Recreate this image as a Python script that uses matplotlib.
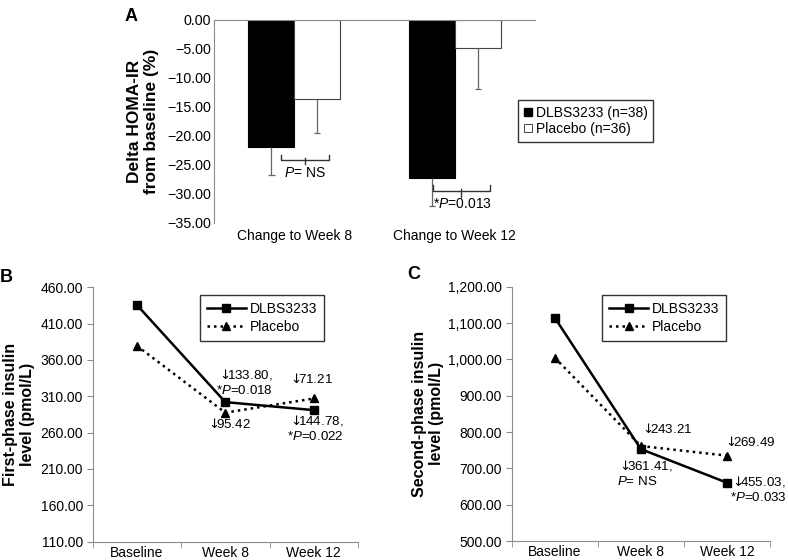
import matplotlib.pyplot as plt
from matplotlib.lines import Line2D

plt.rcParams['font.family'] = ['Liberation Sans', 'DejaVu Sans']
plt.rcParams['mathtext.fontset'] = 'custom'
plt.rcParams['mathtext.it'] = 'Liberation Sans:italic'
plt.rcParams['mathtext.rm'] = 'DejaVu Sans'
plt.rcParams['font.size'] = 10

# panel A data
groups = ['Change to Week 8', 'Change to Week 12']
dlbs_delta = [-21.9, -27.2]
placebo_delta = [-13.7, -4.9]
dlbs_err = [4.9, 4.9]
placebo_err = [5.8, 7.0]
a_ticks = [0, -5, -10, -15, -20, -25, -30, -35]

# panels B and C data
visits = ['Baseline', 'Week 8', 'Week 12']
first_dlbs = [435.7, 302.0, 291.0]
first_placebo = [379.5, 287.5, 307.0]
second_dlbs = [1114.7, 753.0, 660.5]
second_placebo = [1004.6, 761.5, 735.0]
b_ticks = [110, 160, 210, 260, 310, 360, 410, 460]
c_ticks = [500, 600, 700, 800, 900, 1000, 1100, 1200]

grey = '#8c8c8c'
tick_fs = 10
note_fs = 9.6
fig = plt.figure(figsize=(7.88, 5.6), dpi=100)


def style_left(ax, length=4):
    ax.spines[['right', 'bottom', 'top']].set_visible(False)
    ax.spines['left'].set_color(grey)
    ax.tick_params(axis='y', direction='out', length=length, color=grey, pad=3,
                   labelsize=tick_fs)


# ---- A ----
ax = fig.add_axes([0.2716, 0.6018, 0.4074, 0.3625])
x = list(range(len(groups)))
w = 0.286
xb = [i - w / 2 for i in x]
xp = [i + w / 2 for i in x]
ax.bar(xb, dlbs_delta, w, color='black', edgecolor='black', linewidth=0.8)
ax.bar(xp, placebo_delta, w, color='white', edgecolor='#444444', linewidth=0.8)
# one-sided error bars, cap at the far end only
for xs, vals, errs in [(xb, dlbs_delta, dlbs_err), (xp, placebo_delta, placebo_err)]:
    ends = [v - e for v, e in zip(vals, errs)]
    ax.vlines(xs, vals, ends, color='#666666', lw=0.9)
    ax.hlines(ends, [v - 0.02 for v in xs], [v + 0.02 for v in xs], color='#666666', lw=0.9)
ax.set_xlim(-0.5, 1.5)
ax.set_ylim(-35, 0)
style_left(ax, length=0)
ax.tick_params(axis='y', pad=2, labelsize=10.3)
ax.spines['top'].set_visible(True)
ax.spines['top'].set_color(grey)
ax.set_yticks(a_ticks)
ax.set_yticklabels([f'{v:.2f}'.replace('-', '\u2212') for v in a_ticks])
ax.set_xticks(x)
ax.set_xticklabels(groups)
ax.tick_params(axis='x', length=0, pad=4, labelsize=10)
ax.set_ylabel('Delta HOMA-IR\nfrom baseline (%)', fontweight='bold', fontsize=12.5,
              labelpad=6, linespacing=1.2)

# brackets
for (x0, x1, yt, yh, yc, tx, ty, txt) in [
        (-0.081, 0.217, -23.3, -24.1, -24.8, 0.068, -26.3, '$P$= NS'),
        (0.865, 1.217, -28.45, -29.4, -30.5, 1.049, -31.8, '*$P$=0.013')]:
    xm = (x0 + x1) / 2
    ax.plot([x0, x0, x1, x1], [yt, yh, yh, yt], color='#333333', lw=1.0, clip_on=False)
    ax.plot([xm, xm], [yh + 0.3, yc], color='#333333', lw=1.0, clip_on=False)
    ax.text(tx, ty, txt, ha='center', va='center', fontsize=10)

handles_a = [Line2D([], [], marker='s', color='none', markerfacecolor='black',
                    markeredgecolor='black', markersize=6),
             Line2D([], [], marker='s', color='none', markerfacecolor='white',
                    markeredgecolor='#444444', markersize=6, markeredgewidth=0.7)]
fig.legend(handles_a, ['DLBS3233 (n=38)', 'Placebo (n=36)'], loc='upper left',
           bbox_to_anchor=(518 / 788, 1 - 100 / 560), fancybox=False, edgecolor='#333333',
           framealpha=1, handlelength=0.6, handletextpad=0.3, borderpad=0.4,
           labelspacing=0.2, fontsize=10, borderaxespad=0)
fig.text(0.158, 0.985, 'A', fontsize=13, fontweight='bold', va='top', ha='left')


def line_panel(rect, dlbs, placebo, ticks, fmt, ylabel, leg_anchor, pad):
    ax = fig.add_axes(rect)
    xs = list(range(len(visits)))
    ax.plot(xs, dlbs, color='black', lw=1.8, marker='s', markersize=6, label='DLBS3233')
    ax.plot(xs, placebo, color='black', lw=1.8, ls=(0, (1, 1.6)), marker='^',
            markersize=6, label='Placebo')
    ax.set_xlim(-0.5, 2.5)
    ax.set_ylim(ticks[0], ticks[-1])
    style_left(ax)
    ax.spines['bottom'].set_visible(True)
    ax.spines['bottom'].set_color(grey)
    ax.set_yticks(ticks)
    ax.set_yticklabels([fmt(v) for v in ticks])
    ax.set_xticks(xs)
    ax.set_xticklabels(visits)
    ax.set_xticks([-0.5, 0.5, 1.5, 2.5], minor=True)
    ax.tick_params(axis='x', which='major', length=0, pad=3, labelsize=10)
    ax.tick_params(axis='x', which='minor', length=4, color=grey, direction='out')
    ax.set_ylabel(ylabel, fontweight='bold', fontsize=11.5, labelpad=pad, linespacing=1.15)
    ax.legend(loc='upper left', bbox_to_anchor=leg_anchor, fancybox=False,
              edgecolor='#333333', framealpha=1, handlelength=2.8, handletextpad=0.3,
              borderpad=0.5, labelspacing=0.3, fontsize=10, borderaxespad=0)
    return ax


arrow = r'$\downarrow\!\!\!$'

# ---- B ----
axb = line_panel([0.1176, 0.0327, 0.3367, 0.4543], first_dlbs, first_placebo, b_ticks,
                 lambda v: f'{v:.2f}', 'First-phase insulin\nlevel (pmol/L)', (0.404, 0.97), 4)
axb.text(1.536, 350.8, arrow + '133.80,\n*$P$=0.018', ha='right', va='top',
         multialignment='right', fontsize=note_fs)
axb.text(1.713, 344, arrow + '71.21', ha='left', va='top', fontsize=note_fs)
axb.text(0.78, 282, arrow + '95.42', ha='left', va='top', fontsize=note_fs)
axb.text(2.335, 286.7, arrow + '144.78,\n*$P$=0.022', ha='right', va='top',
         multialignment='right', fontsize=note_fs)
fig.text(0.0, 1 - 269 / 560, 'B', fontsize=13, fontweight='bold', va='top', ha='left')

# ---- C ----
axc = line_panel([0.6494, 0.0339, 0.3278, 0.4541], second_dlbs, second_placebo, c_ticks,
                 lambda v: f'{v:,.2f}', 'Second-phase insulin\nlevel (pmol/L)', (0.35, 0.967), 3)
axc.text(0.99, 828, arrow + '243.21', ha='left', va='top', fontsize=note_fs)
axc.text(1.954, 792, arrow + '269.49', ha='left', va='top', fontsize=note_fs)
axc.text(0.722, 727.6, arrow + '361.41,\n$P$= NS', ha='left', va='top', fontsize=note_fs)
axc.text(2.04, 684, arrow + '455.03,\n*$P$=0.033', ha='left', va='top', fontsize=note_fs)
fig.text(407 / 788, 1 - 266 / 560, 'C', fontsize=13, fontweight='bold', va='top', ha='left')

fig.savefig('out.png', dpi=100)
